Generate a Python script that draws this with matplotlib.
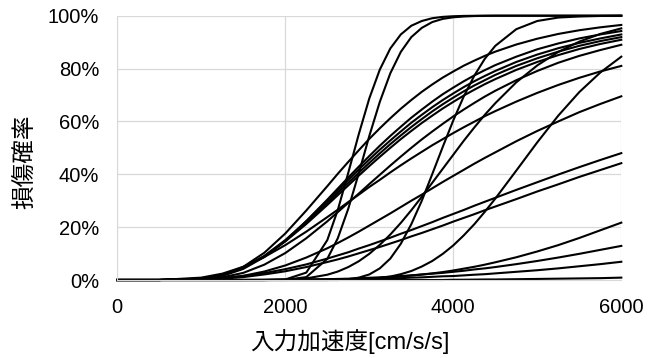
import matplotlib
matplotlib.use("Agg")
import matplotlib.pyplot as plt
from matplotlib.ticker import PercentFormatter

# ---------------------------
# 設定
# ---------------------------
plt.rcParams['font.family'] = ['Liberation Sans', 'Noto Sans CJK JP']
GRID_COLOR = '#d9d9d9'
LINE_W = 1.5

# 入力加速度 [cm/s/s]
accel = [0, 500, 1000, 1250, 1500, 1750, 2000, 2250, 2500, 2625, 2750, 2875,
         3000, 3125, 3250, 3375, 3500, 3625, 3750, 3875, 4000, 4125, 4250,
         4375, 4500, 4750, 5000, 5250, 5500, 5750, 6000]

# 損傷確率 [%]
p_a1 = [0, 0, 0, 0, 0, 0, 0.2, 2.8, 15.1, 26.5, 40.6, 55.2, 68.7, 79.6, 87.6,
        92.9, 96.2, 98.0, 99.05, 99.56, 99.8, 99.92, 99.97, 100, 100, 100, 100,
        100, 100, 100, 100]
p_a2 = [0, 0, 0, 0, 0, 0, 0.05, 1.1, 8.0, 15.8, 27.0, 40.4, 54.5, 67.4, 78.2,
        86.3, 91.9, 95.4, 97.6, 98.8, 99.4, 99.7, 99.87, 99.94, 100, 100, 100,
        100, 100, 100, 100]
p_b = [0, 0, 0, 0, 0, 0, 0, 0, 0, 0.1, 0.3, 0.9, 2.1, 4.4, 8.1, 13.7, 21.1,
       30.0, 40.1, 50.4, 60.4, 69.5, 77.3, 83.7, 88.6, 94.9, 98.0, 99.3, 99.7,
       99.9, 100]
p_h = [0, 0, 0.4, 1.8, 5.0, 10.3, 17.6, 26.3, 35.5, 40.2, 44.7, 49.1, 53.4,
       57.4, 61.2, 64.8, 68.1, 71.2, 74.0, 76.6, 78.9, 81.1, 83.0, 84.8, 86.4,
       89.1, 91.3, 93.1, 94.5, 95.6, 96.5]
p_c = [0, 0, 0, 0, 0, 0, 0.1, 0.6, 2.0, 3.2, 4.9, 7.1, 9.9, 13.3, 17.2, 21.6,
       26.4, 31.5, 36.8, 42.1, 47.4, 52.7, 57.7, 62.5, 66.9, 74.8, 81.2, 86.3,
       90.2, 93.1, 95.2]
p_k1 = [0, 0, 0.35, 1.5, 4.2, 8.7, 14.8, 22.3, 30.4, 34.6, 38.8, 42.9, 46.9,
        50.8, 54.5, 58.0, 61.4, 64.5, 67.5, 70.3, 72.8, 75.2, 77.4, 79.4, 81.3,
        84.5, 87.3, 89.5, 91.4, 92.9, 94.2]
p_k2 = [0, 0, 0.5, 1.8, 4.6, 9.1, 15.1, 22.2, 30.0, 33.9, 37.9, 41.8, 45.6,
        49.3, 52.8, 56.2, 59.5, 62.5, 65.4, 68.1, 70.6, 73.0, 75.2, 77.2, 79.1,
        82.5, 85.3, 87.7, 89.7, 91.4, 92.9]
p_k3 = [0, 0, 0.5, 1.8, 4.6, 9.0, 14.8, 21.7, 29.2, 33.0, 36.8, 40.6, 44.3,
        47.9, 51.4, 54.7, 57.9, 60.9, 63.8, 66.5, 69.0, 71.4, 73.6, 75.6, 77.6,
        81.0, 83.9, 86.4, 88.6, 90.4, 91.9]
p_k4 = [0, 0, 0.5, 1.9, 4.6, 8.9, 14.6, 21.2, 28.4, 32.1, 35.8, 39.5, 43.1,
        46.6, 50.0, 53.3, 56.4, 59.4, 62.2, 64.9, 67.4, 69.8, 72.0, 74.1, 76.0,
        79.5, 82.5, 85.1, 87.4, 89.3, 90.9]
p_89 = [0, 0, 0.2, 1.0, 2.7, 5.8, 10.2, 15.8, 22.2, 25.7, 29.2, 32.7, 36.3,
        39.8, 43.3, 46.7, 50.0, 53.2, 56.2, 59.1, 61.9, 64.5, 67.0, 69.4, 71.6,
        75.6, 79.1, 82.2, 84.8, 87.0, 89.0]
p_d = [0, 0, 0, 0, 0, 0, 0, 0, 0, 0, 0.1, 0.2, 0.4, 0.8, 1.3, 2.2, 3.4, 5.1,
       7.2, 9.9, 13.1, 16.9, 21.1, 25.8, 30.8, 41.4, 52.1, 62.2, 71.1, 78.5,
       84.5]
p_80 = [0, 0, 0.9, 2.4, 5.0, 8.7, 13.2, 18.3, 23.8, 26.6, 29.5, 32.3, 35.2,
        37.9, 40.7, 43.4, 46.0, 48.5, 51.0, 53.3, 55.6, 57.8, 59.9, 62.0, 63.9,
        67.5, 70.8, 73.8, 76.5, 78.9, 81.0]
p_70 = [0, 0, 0.2, 0.6, 1.6, 3.2, 5.5, 8.5, 12.0, 14.0, 16.1, 18.3, 20.6, 22.9,
        25.2, 27.6, 30.0, 32.3, 34.7, 37.1, 39.4, 41.7, 44.0, 46.2, 48.3, 52.5,
        56.4, 60.0, 63.5, 66.6, 69.5]
p_47 = [0, 0, 0.25, 0.7, 1.5, 2.6, 4.1, 5.9, 8.1, 9.3, 10.5, 11.9, 13.2, 14.6,
        16.0, 17.5, 18.9, 20.4, 21.9, 23.5, 25.0, 26.5, 28.1, 29.6, 31.1, 34.1,
        37.0, 39.9, 42.7, 45.4, 48.0]
p_44 = [0, 0, 0.2, 0.5, 1.1, 2.1, 3.3, 4.9, 6.8, 7.8, 8.9, 10.1, 11.3, 12.5,
        13.8, 15.1, 16.5, 17.8, 19.2, 20.6, 22.1, 23.5, 24.9, 26.4, 27.8, 30.6,
        33.5, 36.2, 39.0, 41.6, 44.2]
p_22 = [0, 0, 0, 0, 0, 0, 0, 0.1, 0.15, 0.2, 0.3, 0.4, 0.6, 0.8, 1.0, 1.3, 1.7,
        2.1, 2.5, 3.0, 3.6, 4.3, 5.0, 5.8, 6.7, 8.6, 10.8, 13.2, 15.9, 18.8,
        21.7]
p_13 = [0, 0, 0, 0, 0, 0.05, 0.1, 0.2, 0.3, 0.4, 0.5, 0.7, 0.85, 1.0, 1.25,
        1.5, 1.75, 2.05, 2.4, 2.7, 3.1, 3.5, 4.0, 4.4, 4.9, 6.0, 7.2, 8.5, 9.9,
        11.4, 12.9]
p_07 = [0, 0, 0, 0, 0, 0, 0.05, 0.1, 0.15, 0.2, 0.3, 0.35, 0.4, 0.5, 0.6, 0.7,
        0.9, 1.0, 1.2, 1.4, 1.5, 1.75, 2.0, 2.2, 2.5, 3.1, 3.7, 4.4, 5.2, 6.0,
        6.9]
p_01 = [0, 0, 0, 0, 0, 0, 0, 0, 0, 0, 0, 0, 0, 0, 0, 0, 0, 0, 0, 0, 0.1, 0.1,
        0.15, 0.2, 0.2, 0.3, 0.4, 0.5, 0.6, 0.7, 0.9]

curves = [p_01, p_07, p_13, p_22, p_44, p_47, p_70, p_80, p_d, p_89,
          p_k4, p_k3, p_k2, p_k1, p_c, p_h, p_b, p_a2, p_a1]

x_ticks = [0, 2000, 4000, 6000]
y_ticks = [0, 20, 40, 60, 80, 100]

# ---------------------------
# 描画
# ---------------------------
fig = plt.figure(figsize=(6.6, 3.58), dpi=100)
ax = fig.add_axes([117.3 / 660, 1 - 280 / 358, 504 / 660, 264.3 / 358])

for p in curves:
    ax.plot(accel, p, color='black', lw=LINE_W, clip_on=False)

ax.set_xlim(0, 6000)
ax.set_ylim(0, 100)
ax.set_xticks(x_ticks)
ax.set_yticks(y_ticks)
ax.yaxis.set_major_formatter(PercentFormatter(100, decimals=0))

ax.grid(color=GRID_COLOR, lw=0.9)
ax.set_axisbelow(True)
for side in ['top', 'right']:
    ax.spines[side].set_visible(False)
for side in ['left', 'bottom']:
    ax.spines[side].set_color(GRID_COLOR)
ax.tick_params(length=0, labelsize=14.5, pad=13)

ax.set_xlabel('入力加速度[cm/s/s]', fontsize=17, va='center')
ax.xaxis.set_label_coords(0.4617, -0.231)
ax.set_ylabel('損傷確率', fontsize=17, va='center')
ax.yaxis.set_label_coords(-0.183, 0.4465)

fig.savefig('out.png', dpi=100)
